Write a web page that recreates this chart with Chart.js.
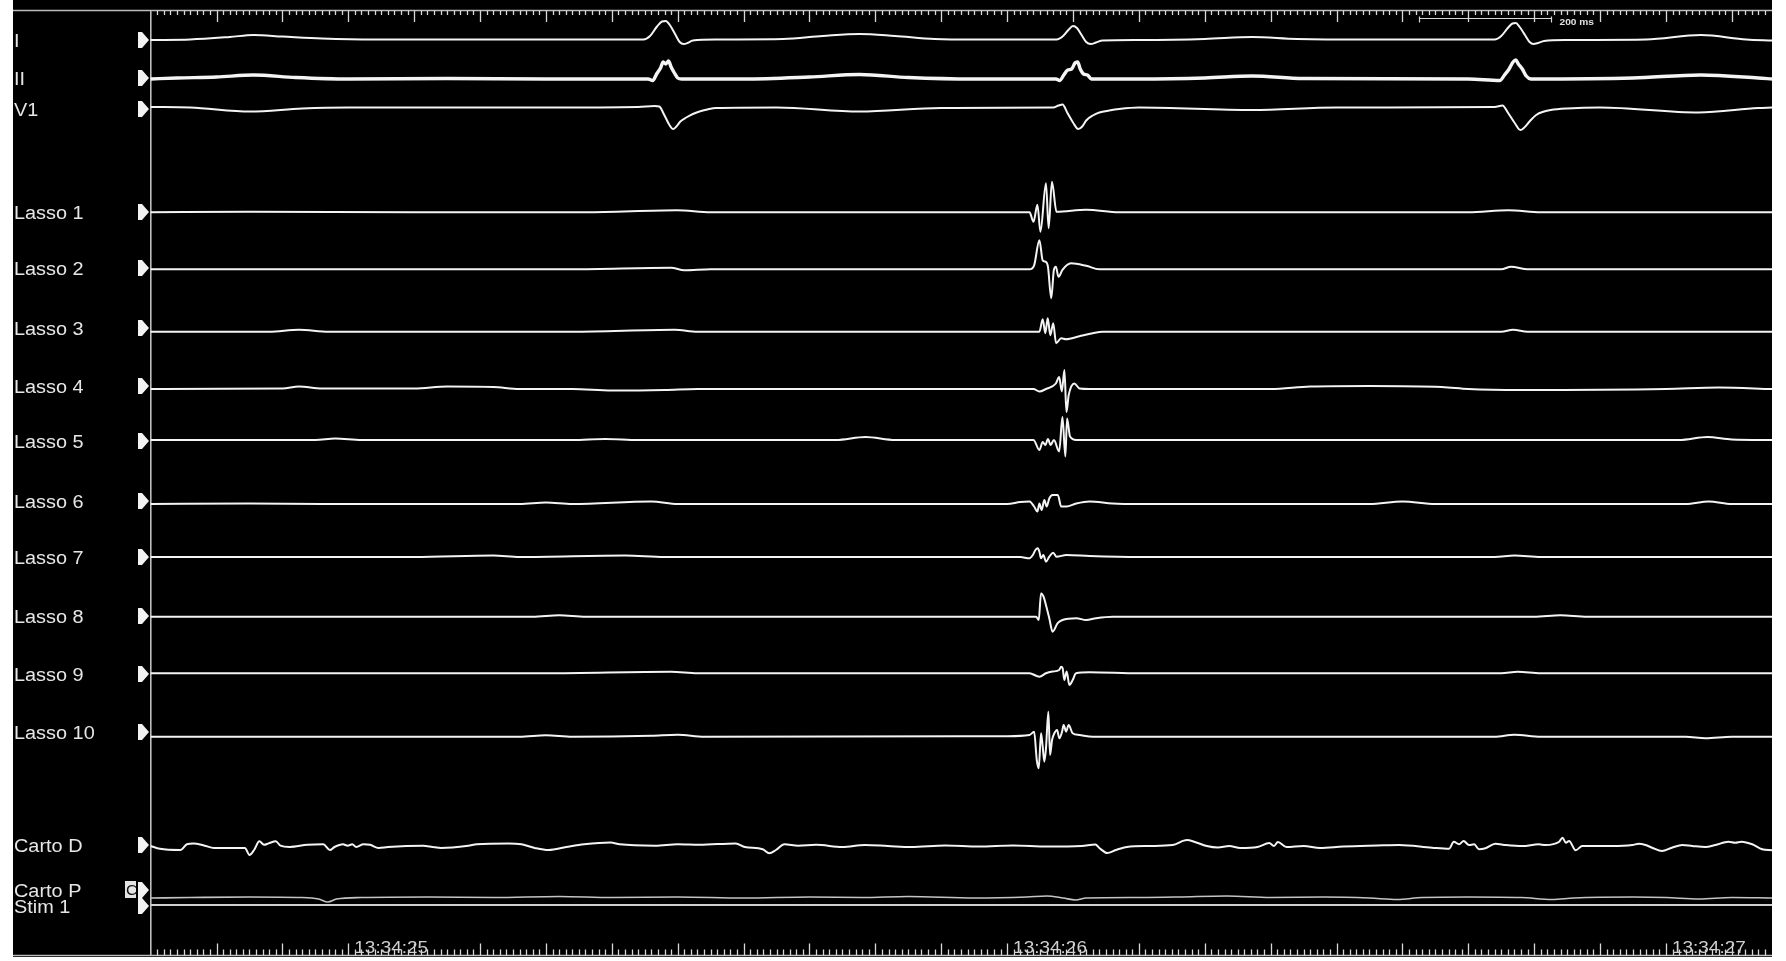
<!DOCTYPE html>
<html>
<head>
<meta charset="utf-8">
<script src="https://cdn.jsdelivr.net/npm/chart.js@4/dist/chart.umd.min.js"></script>
<style>
  html, body { margin: 0; padding: 0; background: #fff; overflow: hidden; }
  canvas { display: block; }
</style>
</head>
<body>
<canvas id="ep" width="1786" height="961"></canvas>
<script>
// ---- Recording: channel names and traces ----
// Each trace is a list of [time in ms from the left edge, deflection (up = positive)].
const channelNames = ['I', 'II', 'V1', 'Lasso 1', 'Lasso 2', 'Lasso 3', 'Lasso 4', 'Lasso 5',
  'Lasso 6', 'Lasso 7', 'Lasso 8', 'Lasso 9', 'Lasso 10', 'Carto D', 'Carto P', 'Stim 1'];

const leadI = [[0,0],[60,0.5],[120,3],[156,5],[200,3.5],[260,1.5],[340,0.5],[450,0.5],[600,0.5],[748,0.5],
  [758,4],[768,13],[776,18.5],[782,19],[788,15],[796,6],[803,-2],[809,-4],[815,-3],[823,-0.5],[860,0.5],
  [960,1],[1020,4],[1076,6],[1130,4],[1190,1],[1250,0.5],[1375,0.5],[1385,4],[1393,10],[1400,14],[1406,12],
  [1413,5],[1420,-2],[1427,-4],[1435,-2.5],[1445,-0.5],[1500,0],[1600,1],[1672,3],[1740,1],[1850,0.5],
  [2000,0.5],[2040,0.5],[2050,4],[2060,12],[2067,16.5],[2072,17],[2078,13],[2086,5],[2093,-2],[2099,-4],
  [2106,-3],[2115,-1],[2150,0],[2270,0.5],[2353,5],[2422,0.5],[2461,-0.5]];

const leadII = [[0,0],[40,1],[100,2],[156,4],[220,1.5],[300,0],[450,0.5],[600,0],[755,0],[762,-1.5],[768,5],
  [774,11],[778,17],[782,15],[786,18],[790,12],[795,6],[800,1],[806,0],[900,0],[1000,2],[1076,4.5],[1150,1.5],
  [1250,0],[1374,0],[1380,-1.5],[1386,4],[1392,9],[1398,10],[1403,16],[1407,17],[1411,10],[1416,5],[1422,4],
  [1428,0],[1500,0],[1600,1],[1672,3],[1750,0.5],[2000,0],[2048,-1.5],[2055,4],[2062,10],[2068,17],[2072,19],
  [2076,15],[2082,10],[2088,3],[2095,0],[2250,1],[2353,4],[2440,1],[2461,0]];

const leadV1 = [[0,0.5],[60,0],[151,-4],[230,-1],[300,0],[600,0],[740,0.5],[765,1.5],[772,1],[780,-8],[787,-17],
  [793,-21.5],[798,-19],[804,-14],[813,-10],[823,-6.5],[833,-4],[845,-2],[858,-0.5],[950,0],[1076,-4],[1200,-0.5],
  [1370,0],[1378,2],[1384,3],[1392,-6],[1400,-15],[1408,-21.5],[1414,-19],[1420,-13],[1430,-8],[1440,-5],
  [1455,-3],[1470,-1.5],[1500,0],[1672,-2.5],[1800,0],[2040,0.5],[2052,2],[2060,-5],[2070,-15],[2079,-22.5],
  [2085,-20],[2093,-14],[2103,-7.5],[2115,-4],[2125,-2.5],[2150,-1],[2200,0],[2350,-5],[2440,-0.5],[2461,0]];

const lasso1 = [[0,0],[150,0.5],[400,0],[660,0],[799,2],[850,0],[1200,0],[1334,0],[1340,-9.5],[1346,7.5],
  [1350.5,-19.5],[1359,29],[1363,-16],[1368,30.5],[1375,0.5],[1420,2.5],[1470,0],[2000,0],[2061,2],[2110,0],[2461,0]];

const lasso2 = [[0,0],[300,0],[640,0],[790,1.5],[810,-1],[850,0],[1334,0],[1341,4],[1349,29],[1354,9],[1359,7.5],
  [1362,2.5],[1367,-29],[1371,-0.5],[1374,2.5],[1378,-7.5],[1384,-0.5],[1397,6],[1420,3.5],[1440,0],[2050,0],
  [2065,2.5],[2090,0],[2461,0]];

const lasso3 = [[0,0],[180,0],[225,2],[270,0],[640,0],[795,2],[830,0],[1349,0],[1354,12.5],[1358,-1.5],
  [1361.6,13.5],[1365.6,-3.5],[1370,8.5],[1374.3,-11.5],[1382,-6.5],[1389.5,-7.5],[1409.6,-4.5],[1430,-1.5],
  [1445,0],[2050,0],[2068,2],[2090,0],[2461,0]];

const lasso4 = [[0,0],[200,0.5],[225,2.5],[260,0.5],[400,0.5],[450,2.5],[520,2],[560,0],[640,0],[700,-1.5],
  [780,-1],[830,0],[1200,0],[1340,0],[1349,-2.5],[1359,0],[1374,5.5],[1379,12],[1383,-2.5],[1387,19],[1390,-23],
  [1393.5,-6],[1402,5.5],[1410,0.5],[1425,0],[1700,0],[1760,2.5],[1850,3],[1960,2],[2000,0],[2080,-1],[2300,0],
  [2380,1.5],[2461,0]];

const lasso5 = [[0,0],[250,0],[280,1.5],[320,0],[640,0],[690,1],[740,0],[1040,0],[1085,3],[1130,0],[1340,0],
  [1349,-10],[1354,-2],[1358,-5],[1362,1],[1366,-5],[1371,0],[1379,-11.5],[1384,23],[1388.4,-16.5],[1391,21.5],
  [1395.5,3.5],[1405,0],[2320,0],[2363,3],[2400,0.5],[2461,0]];

const lasso6 = [[0,0],[150,0.5],[260,0],[560,0],[600,1.5],[640,0],[760,2.5],[800,0],[1000,0],[1300,0],[1320,2],
  [1334,2.5],[1341,-2.5],[1346,-7.5],[1349,0.5],[1352.4,-6],[1356.5,4],[1360,-2.5],[1364,5.5],[1369,9],[1377,9],
  [1382,-2.5],[1390,-2.5],[1405,0.5],[1425,2.5],[1460,0.5],[1500,0],[1850,0],[1900,2.5],[1950,0],[2330,0],
  [2365,2.5],[2400,0],[2461,0]];

const lasso7 = [[0,0],[400,0],[520,1.5],[560,0],[720,1.5],[780,0],[1320,0],[1334,-1.3],[1339,2],[1343,7],
  [1346.4,8.7],[1349,5.3],[1351.5,-1.3],[1355,2],[1359,-4.7],[1364,0.3],[1370,4.3],[1375,0.3],[1390,2],[1425,1],
  [1500,0],[2040,0],[2070,1.5],[2110,0],[2461,0]];

const lasso8 = [[0,0],[300,0],[580,0],[620,1.5],[660,0],[1344,0],[1348,-3.3],[1351.5,23.5],[1355,20.5],
  [1359,11.5],[1364,-1.5],[1369,-15],[1376.7,-6.5],[1384,-3.3],[1405,-1.5],[1420,-3.3],[1435,-1.5],[1460,0],
  [2100,0],[2140,1.5],[2180,0],[2461,0]];

const lasso9 = [[0,0],[600,0],[790,1.5],[830,0],[1334,0],[1349,-3.4],[1359,0],[1369,1.7],[1379,3.3],[1382,6.6],
  [1384.3,5],[1386.8,-6.7],[1390.4,1.7],[1394.5,-11.7],[1399.5,-6.7],[1404.6,0],[1425,1],[1500,0],[2050,0],
  [2075,1.5],[2110,0],[2461,0]];

const lasso10 = [[0,0],[560,0],[600,1.5],[640,0],[760,1],[800,2],[840,0],[1300,0.5],[1334,1.7],[1341,5],
  [1345,-23.3],[1348,-31.6],[1351.5,3.4],[1354,-10],[1356.5,-25],[1359,-11.6],[1362.6,25],[1365.2,-18.3],
  [1368.2,-3.3],[1371.7,3.4],[1375.8,6.7],[1379.3,-1.6],[1383.4,5],[1385.8,11.7],[1389.5,5],[1393.4,11.7],
  [1399.5,3.4],[1409.6,1.7],[1430,0],[2040,0],[2070,2],[2110,0],[2330,0],[2360,-1.5],[2400,0],[2461,0]];

const cartoD = [[0,1],[14,-1.8],[45,-3],[55,2.7],[65,3.6],[82,1.3],[96,-0.9],[143,-0.9],[150,-8],[157,-3],
  [165,5.8],[172,2.2],[179,3.6],[190,5.8],[197,1.3],[211,0],[238,2.2],[262,2.7],[272,-3],[279,0],[292,2.7],
  [299,1.3],[306,2.7],[312,0],[323,2.7],[333,2.2],[346,-0.9],[360,0],[414,1.3],[428,0],[441,-0.9],[482,1.3],
  [495,2.7],[543,3.6],[563,2.7],[583,-0.9],[604,-3],[631,0],[658,2.7],[698,4.5],[712,2.7],[766,1.3],[800,2.7],
  [833,2.2],[888,3.6],[902,0],[929,-2.2],[939,-6.2],[949,-3],[962,2.7],[983,1.3],[1010,2.2],[1050,0],[1084,2],
  [1119,1],[1154,0],[1206,1.5],[1257,0.5],[1309,1.5],[1361,0.5],[1413,1],[1434,2.5],[1440,-1],[1452,-6],
  [1465,-3],[1482,0],[1516,1],[1551,2],[1573,7],[1585,5],[1603,1],[1620,-0.5],[1637,1],[1654,-1],[1680,0],
  [1698,4],[1705,1],[1711,5],[1724,0],[1750,1],[1775,-1],[1810,0.5],[1862,1.5],[1895,2],[1945,-0.7],[1971,-1.7],
  [1978,5.3],[1986,2.7],[1993,6],[2001,2],[2009,2.7],[2016,-2.3],[2026,-1.3],[2041,3.3],[2057,2],[2082,1],
  [2107,2.7],[2117,2],[2138,5.3],[2143,9.3],[2148,4.3],[2153,6],[2163,-3.3],[2173,1],[2218,1],[2249,2],
  [2259,3.3],[2269,2],[2279,-0.7],[2294,-4],[2309,-0.7],[2325,2],[2340,1],[2360,0],[2375,2],[2395,5.3],
  [2405,4.3],[2415,5.3],[2431,2.7],[2446,-2.3],[2461,-3.3]];

const cartoP = [[0,0],[60,0.5],[150,1],[230,0.5],[255,-1],[269,-4],[282,-1],[320,0.5],[420,1],[520,0.5],
  [620,1.5],[700,0.5],[800,1],[900,0],[1000,1],[1080,0.5],[1150,1.5],[1250,0],[1330,1],[1360,2],[1385,0],
  [1404,-2],[1420,0],[1500,0.5],[1560,1],[1633,2],[1700,0.5],[1780,1],[1850,0],[1892,-1.5],[1930,0.5],
  [2000,1],[2080,0.5],[2127,-1.5],[2160,0],[2250,1],[2300,0.5],[2350,-1],[2400,0.5],[2461,0]];

const stim1 = [[0,0],[2461,0]];

const traces = [leadI, leadII, leadV1, lasso1, lasso2, lasso3, lasso4, lasso5,
  lasso6, lasso7, lasso8, lasso9, lasso10, cartoD, cartoP, stim1];

// Time axis: second marks and the calibration bar (ms)
const secondMarks = [300, 1300, 2300];
const secondLabels = ['13:34:25', '13:34:26', '13:34:27'];
const calibration = { from: 1925, to: 2125, label: '200 ms' };

// ---- Layout (screen rows, px) ----
const labelRows = [40, 78, 109, 212, 268, 328, 386, 441, 501, 557, 616, 674, 732, 845, 890, 906];
const traceRows = [40, 79, 107.5, 212.3, 269.3, 331.7, 389, 440, 504, 557, 616.7, 673.3, 736.7, 847, 898, 905];
const traceColors = ['#f4f4f4','#f4f4f4','#f4f4f4','#f4f4f4','#f4f4f4','#f4f4f4','#f4f4f4','#f4f4f4',
  '#f4f4f4','#f4f4f4','#f4f4f4','#f4f4f4','#f4f4f4','#f4f4f4','#c4c4c4','#cfcfcf'];
const traceWidths = [2, 3.4, 2, 2, 2, 2, 2, 2, 2, 2, 2, 2, 2, 2, 1.6, 2];

const FRAME = { left: 13, right: 1772, bottom: 957, top: 0 };
const FONT = '"Liberation Sans", Arial, sans-serif';
const STRETCH = 1.13;

function stretchedText(ctx, text, x, y, size, color, weight) {
  ctx.save();
  ctx.font = (weight || '') + ' ' + size + 'px ' + FONT;
  ctx.fillStyle = color;
  ctx.textBaseline = 'alphabetic';
  ctx.translate(x, y);
  ctx.scale(STRETCH, 1);
  ctx.fillText(text, 0, 0);
  ctx.restore();
}

const recorderFrame = {
  id: 'recorderFrame',
  beforeDraw(chart) {
    const ctx = chart.ctx;
    ctx.save();
    ctx.fillStyle = '#ffffff';
    ctx.fillRect(0, 0, chart.width, chart.height);
    ctx.fillStyle = '#000000';
    ctx.fillRect(FRAME.left, FRAME.top, FRAME.right - FRAME.left, FRAME.bottom - FRAME.top);
    ctx.restore();
  },
  beforeDatasetsDraw(chart) {
    const ctx = chart.ctx;
    const xs = chart.scales.x;
    const ys = chart.scales.y;
    const x0 = xs.getPixelForValue(0);
    const topY = 10.5, botY = 955.5;
    ctx.save();
    ctx.strokeStyle = '#bdbdbd';
    ctx.lineWidth = 1.6;
    // ruler lines and the divider between names and traces
    ctx.beginPath();
    ctx.moveTo(FRAME.left, topY); ctx.lineTo(FRAME.right, topY);
    ctx.moveTo(FRAME.left, botY); ctx.lineTo(FRAME.right, botY);
    ctx.moveTo(Math.round(x0) - 0.2, topY); ctx.lineTo(Math.round(x0) - 0.2, botY);
    ctx.stroke();
    // 10 ms ticks, longer every 100 ms
    ctx.strokeStyle = '#d8d8d8';
    ctx.lineWidth = 1.3;
    ctx.beginPath();
    for (let t = 10; t <= xs.max; t += 10) {
      const px = Math.round(xs.getPixelForValue(t)) + 0.5;
      if (px > FRAME.right - 1) break;
      const major = t % 100 === 0;
      ctx.moveTo(px, topY); ctx.lineTo(px, topY + (major ? 11.5 : 4.5));
      ctx.moveTo(px, botY); ctx.lineTo(px, botY - (major ? 12 : 6));
    }
    ctx.stroke();
    // calibration bar
    const c0 = Math.round(xs.getPixelForValue(calibration.from)) + 0.5;
    const c1 = Math.round(xs.getPixelForValue(calibration.to)) + 0.5;
    ctx.strokeStyle = '#d8d8d8';
    ctx.lineWidth = 1.2;
    ctx.beginPath();
    ctx.moveTo(c0, 18.5); ctx.lineTo(c1, 18.5);
    ctx.moveTo(c0, 16.5); ctx.lineTo(c0, 22.5);
    ctx.moveTo(c1, 16.5); ctx.lineTo(c1, 22.5);
    ctx.stroke();
    ctx.restore();
    stretchedText(ctx, calibration.label, c1 + 8, 25, 9, '#e0e0e0', 'bold');
    // second labels along the bottom ruler
    secondMarks.forEach((t, i) => {
      const px = xs.getPixelForValue(t);
      stretchedText(ctx, secondLabels[i], px + 6, 953, 16.8, '#cfcfcf');
    });
    // channel names and row markers
    channelNames.forEach((name, i) => {
      const y = ys.getPixelForValue(labelRows[i]);
      stretchedText(ctx, name, 14, y + 6.5, 17.6, '#e6e6e6');
      ctx.save();
      ctx.fillStyle = '#f2f2f2';
      ctx.beginPath();
      ctx.moveTo(138, y - 8);
      ctx.lineTo(142, y - 8);
      ctx.lineTo(149, y);
      ctx.lineTo(142, y + 8);
      ctx.lineTo(138, y + 8);
      ctx.closePath();
      ctx.fill();
      ctx.restore();
    });
    // clip tag on Carto P
    const cy = ys.getPixelForValue(labelRows[14]);
    ctx.save();
    ctx.fillStyle = '#e4e4e4';
    ctx.fillRect(125, cy - 9, 11, 17);
    ctx.restore();
    stretchedText(ctx, 'C', 126, cy + 5, 14, '#111');
  }
};

const datasets = traces.map((trace, i) => ({
  label: channelNames[i],
  data: trace.map(([t, v]) => ({ x: t, y: traceRows[i] - v })),
  borderColor: traceColors[i],
  borderWidth: traceWidths[i],
  pointRadius: 0,
  cubicInterpolationMode: 'monotone',
  fill: false
}));

new Chart(document.getElementById('ep'), {
  type: 'line',
  data: { datasets },
  options: {
    responsive: false,
    animation: false,
    parsing: false,
    normalized: true,
    layout: { padding: { left: 150, right: 14, top: 0, bottom: 0 } },
    plugins: { legend: { display: false }, tooltip: { enabled: false } },
    scales: {
      x: { type: 'linear', min: -1, max: 2461, display: false },
      y: { type: 'linear', min: 0, max: 961, reverse: true, display: false }
    }
  },
  plugins: [recorderFrame]
});
</script>
</body>
</html>
